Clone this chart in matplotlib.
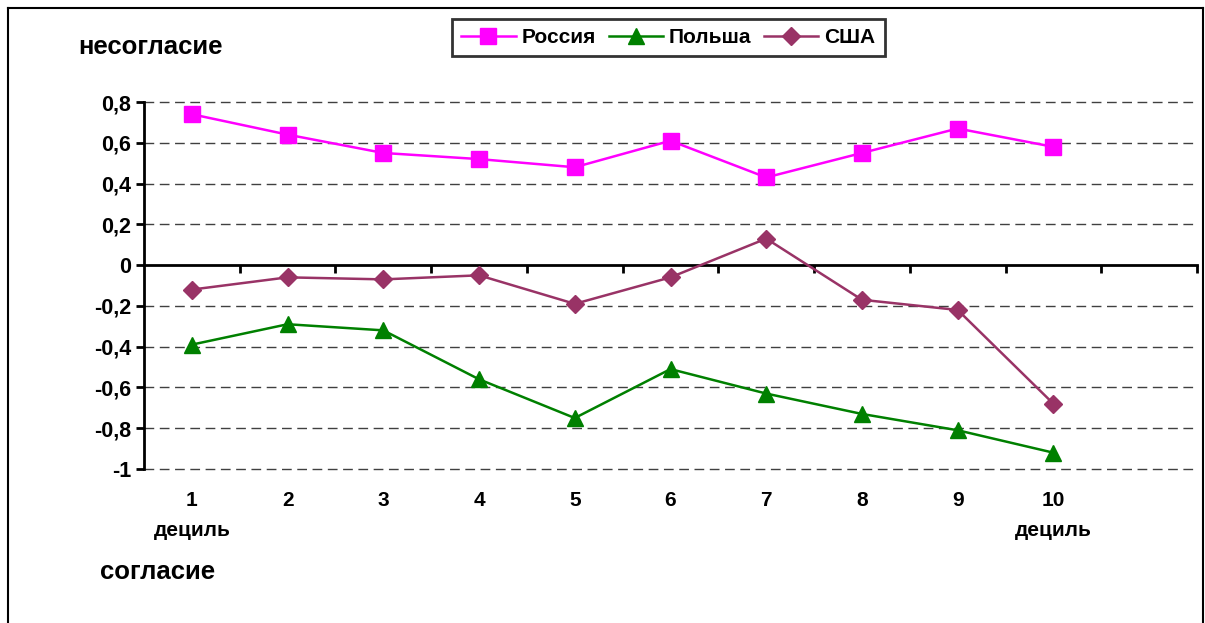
import matplotlib.pyplot as plt
from matplotlib.lines import Line2D
import matplotlib.transforms as mtransforms

plt.rcParams['font.family'] = ['Liberation Sans', 'DejaVu Sans']
plt.rcParams['font.weight'] = 'bold'

deciles = [1, 2, 3, 4, 5, 6, 7, 8, 9, 10]
russia = [0.74, 0.64, 0.55, 0.52, 0.48, 0.61, 0.43, 0.55, 0.67, 0.58]
poland = [-0.39, -0.29, -0.32, -0.56, -0.75, -0.51, -0.63, -0.73, -0.81, -0.92]
usa = [-0.12, -0.06, -0.07, -0.05, -0.19, -0.06, 0.13, -0.17, -0.22, -0.68]

y_ticks = [0.8, 0.6, 0.4, 0.2, 0, -0.2, -0.4, -0.6, -0.8, -1]
y_labels = ["0,8", "0,6", "0,4", "0,2", "0", "-0,2", "-0,4", "-0,6", "-0,8", "-1"]

W, H = 1205, 623
fig = plt.figure(figsize=(W / 100, H / 100), dpi=100)
ax = fig.add_axes([144 / W, 1 - 469 / H, (1197 - 144) / W, (469 - 102) / H])

# dashed grid lines
for y in y_ticks:
    if y != 0:
        ax.axhline(y, color='#404040', linewidth=1, linestyle=(0, (7, 4)), zorder=0,
                   clip_on=False)

ax.plot(deciles, russia, color='#FF00FF', linewidth=1.8, marker='s', markersize=11,
        label='Россия', zorder=3)
ax.plot(deciles, poland, color='#008000', linewidth=1.8, marker='^', markersize=11,
        label='Польша', zorder=3)
ax.plot(deciles, usa, color='#993366', linewidth=1.8, marker='D', markersize=9,
        label='США', zorder=3)

ax.set_xlim(0.5, 11.5)
ax.set_ylim(-1, 0.8)

ax.spines['top'].set_visible(False)
ax.spines['right'].set_visible(False)
ax.spines['bottom'].set_position(('data', 0))
ax.spines['bottom'].set_linewidth(2)
ax.spines['left'].set_linewidth(2)

ax.set_yticks(y_ticks)
ax.set_yticklabels(y_labels, fontsize=15.5, fontweight='bold')
ax.tick_params(axis='y', direction='out', length=6, width=2, pad=3)

ax.set_xticks([x + 0.5 for x in range(1, 12)])
ax.tick_params(axis='x', direction='out', length=6, width=2, labelbottom=False)

trans = mtransforms.blended_transform_factory(ax.transData, fig.transFigure)
for d in deciles:
    ax.text(d, 1 - 500 / H, str(d), transform=trans, ha='center', va='center',
            fontsize=15, fontweight='bold')
ax.text(1, 1 - 530 / H, 'дециль', transform=trans, ha='center', va='center',
        fontsize=15, fontweight='bold')
ax.text(10, 1 - 530 / H, 'дециль', transform=trans, ha='center', va='center',
        fontsize=15, fontweight='bold')

fig.text(78 / W, 1 - 47 / H, 'несогласие', ha='left', va='center', fontsize=18.5,
         fontweight='bold')
fig.text(100 / W, 1 - 572 / H, 'согласие', ha='left', va='center', fontsize=18.5,
         fontweight='bold')

leg = ax.legend(loc='center', bbox_to_anchor=(668.5 / W, 1 - 37.5 / H),
                bbox_transform=fig.transFigure, ncol=3, frameon=True, fancybox=False,
                edgecolor='black', prop={'weight': 'bold', 'size': 15},
                handlelength=2.6, columnspacing=0.6, handletextpad=0.3,
                borderpad=0.45, borderaxespad=0)
leg.get_frame().set_linewidth(2)

# outer frame
for xs, ys in [((8 / W, 8 / W), (0, 1 - 8 / H)),
               ((8 / W, 1203 / W), (1 - 8 / H, 1 - 8 / H)),
               ((1203 / W, 1203 / W), (1 - 8 / H, 0))]:
    fig.add_artist(Line2D(xs, ys, color='black', linewidth=1.5, transform=fig.transFigure))

fig.savefig('out.png', dpi=100)
